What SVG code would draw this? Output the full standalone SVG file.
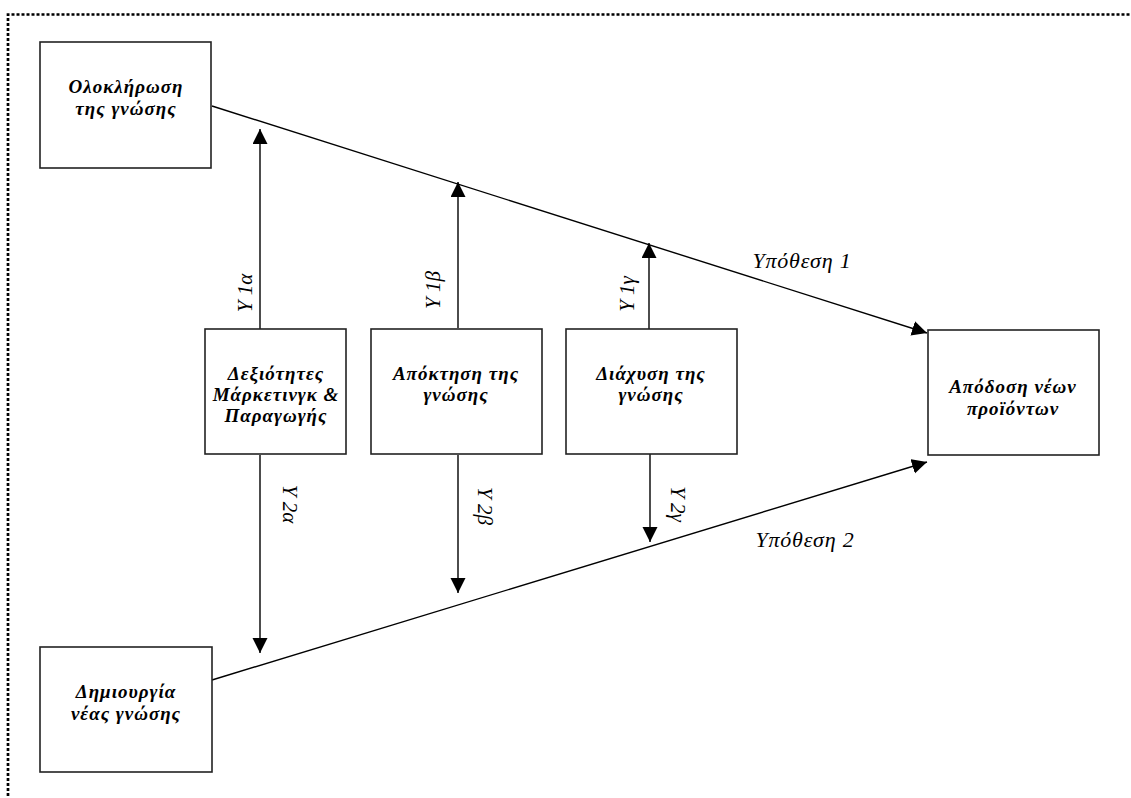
<svg xmlns="http://www.w3.org/2000/svg" width="1131" height="798" viewBox="0 0 1131 798">
<style>
.box{fill:#fff;stroke:#222;stroke-width:1.6}
.nt{font-family:"Liberation Serif","DejaVu Serif",serif;font-weight:bold;font-style:italic;font-size:19px;letter-spacing:1px;text-anchor:middle;fill:#000}
.lbl{font-family:"Liberation Serif","DejaVu Serif",serif;font-style:italic;font-size:21px;fill:#000;text-anchor:middle}
.hyp{font-family:"Liberation Serif","DejaVu Serif",serif;font-style:italic;font-size:22px;letter-spacing:0.8px;fill:#000;text-anchor:middle}
.con{stroke:#000;stroke-width:1.4;fill:none;marker-end:url(#ah)}
</style>
<defs>
<marker id="ah" markerUnits="userSpaceOnUse" markerWidth="16" markerHeight="16" viewBox="0 0 16 16" refX="15" refY="7.5" orient="auto">
<path d="M0,0 L15,7.5 L0,15 z" fill="#000"/>
</marker>
</defs>
<rect width="1131" height="798" fill="#fff"/>
<path d="M8,1131 L8,14.5 L1140,14.5" fill="none" stroke="#000" stroke-width="2.7" stroke-dasharray="3 2"/>
<g id="connectors">
<line class="con" x1="212" y1="106" x2="927" y2="333"/>
<line class="con" x1="212" y1="680" x2="927" y2="462"/>
<line class="con" x1="260" y1="329" x2="260" y2="129"/>
<line class="con" x1="458" y1="328" x2="458" y2="182"/>
<line class="con" x1="649" y1="329" x2="649" y2="243"/>
<line class="con" x1="260" y1="455" x2="260" y2="653"/>
<line class="con" x1="458" y1="455" x2="458" y2="593"/>
<line class="con" x1="650" y1="454" x2="650" y2="542"/>
<text class="lbl" transform="translate(252,293) rotate(-90)">Υ 1α</text>
<text class="lbl" transform="translate(440,290) rotate(-90)">Υ 1β</text>
<text class="lbl" transform="translate(634,294) rotate(-90)">Υ 1γ</text>
<text class="lbl" transform="translate(283,504) rotate(90)">Υ 2α</text>
<text class="lbl" transform="translate(478,506) rotate(90)">Υ 2β</text>
<text class="lbl" transform="translate(671,504) rotate(90)">Υ 2γ</text>
<text class="hyp" x="802" y="268">Υπόθεση 1</text>
<text class="hyp" x="805" y="547">Υπόθεση 2</text>
</g>
<g id="n-oloklirosi">
<rect class="box" x="40" y="42" width="171" height="126"/>
<text class="nt" x="126" y="93">Ολοκλήρωση</text>
<text class="nt" x="126" y="115">της γνώσης</text>
</g>
<g id="n-dexiotites">
<rect class="box" x="205" y="329" width="141" height="125"/>
<text class="nt" x="276" y="380">Δεξιότητες</text>
<text class="nt" x="276" y="401">Μάρκετινγκ &amp;</text>
<text class="nt" x="276" y="422">Παραγωγής</text>
</g>
<g id="n-apoktisi">
<rect class="box" x="371" y="329" width="171" height="125"/>
<text class="nt" x="456" y="380">Απόκτηση της</text>
<text class="nt" x="456" y="401">γνώσης</text>
</g>
<g id="n-diaxysi">
<rect class="box" x="566" y="329" width="171" height="125"/>
<text class="nt" x="651" y="380">Διάχυση της</text>
<text class="nt" x="651" y="401">γνώσης</text>
</g>
<g id="n-apodosi">
<rect class="box" x="928" y="330" width="171" height="125"/>
<text class="nt" x="1013" y="393">Απόδοση νέων</text>
<text class="nt" x="1013" y="415">προϊόντων</text>
</g>
<g id="n-dimiourgia">
<rect class="box" x="40" y="647" width="172" height="125"/>
<text class="nt" x="126" y="698">Δημιουργία</text>
<text class="nt" x="126" y="720">νέας γνώσης</text>
</g>
</svg>
